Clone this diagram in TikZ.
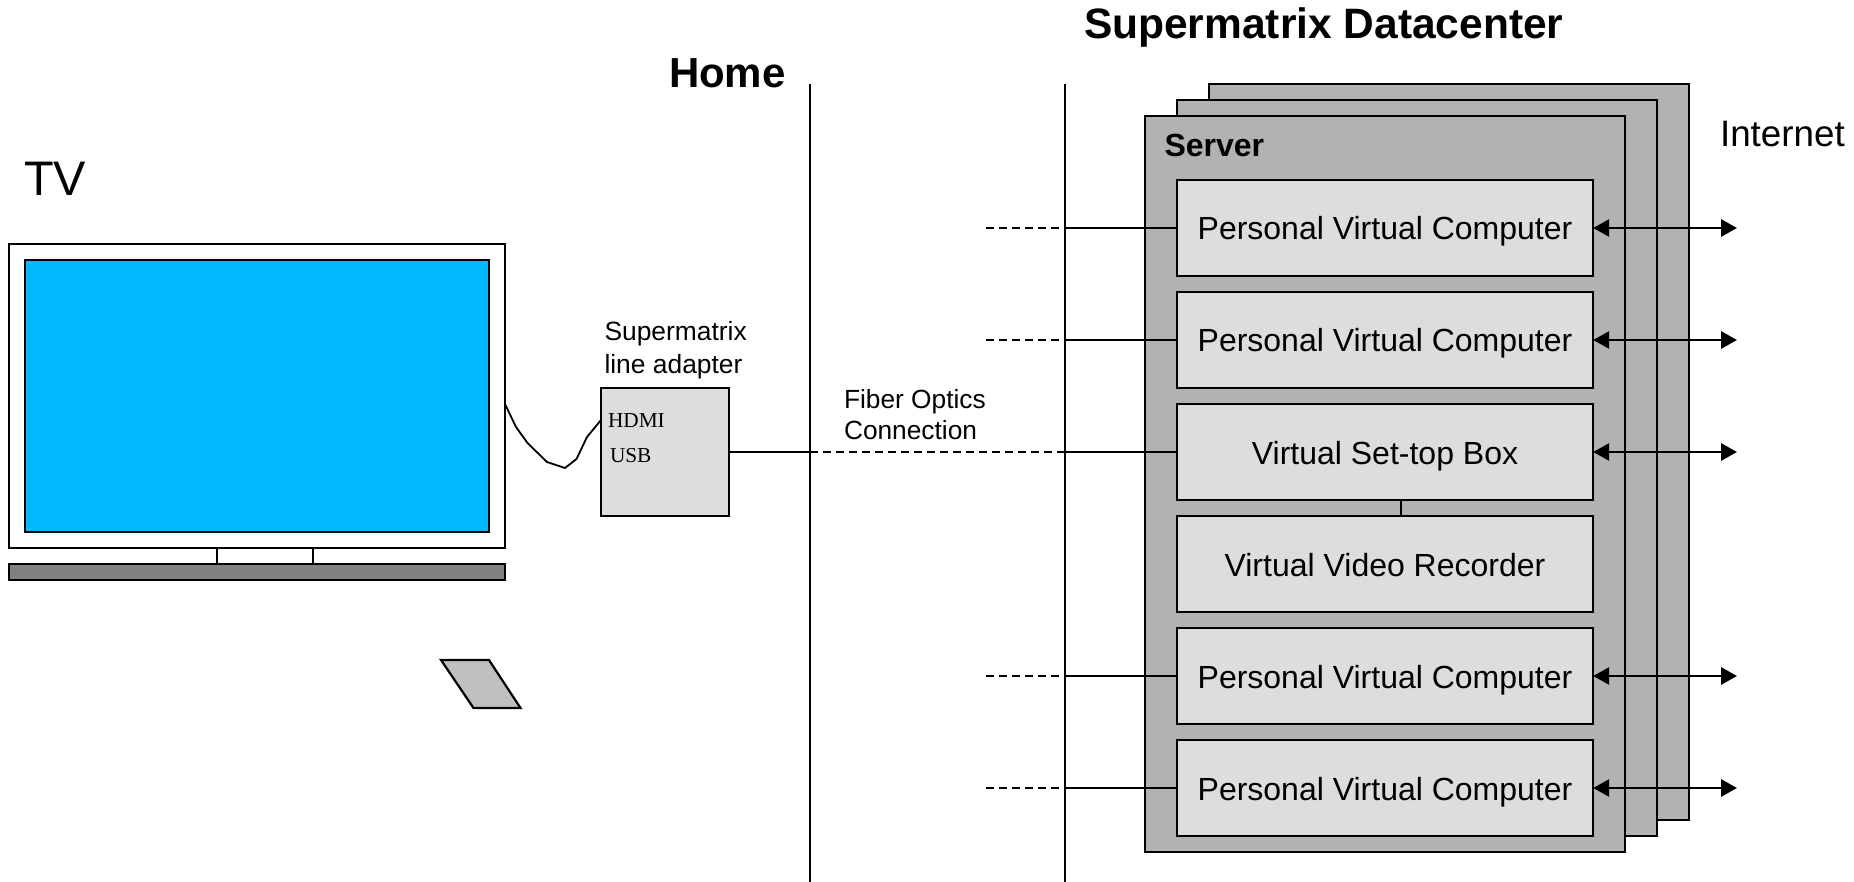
\documentclass[tikz,border=0pt]{standalone}
\usepackage{fontspec}
\setmainfont{Liberation Sans}
\newfontfamily\serifadapter{Liberation Serif}
\usetikzlibrary{arrows.meta,calc}
\definecolor{srvfill}{HTML}{B2B2B2}
\definecolor{boxfill}{HTML}{DDDDDD}
\definecolor{screenblue}{HTML}{00B8FF}
\definecolor{basegray}{HTML}{808080}
\definecolor{padgray}{HTML}{C0C0C0}
\newcommand{\fs}[1]{\fontsize{#1}{#1}\selectfont}
\tikzset{
  every node/.style={outer sep=0pt,inner sep=0pt},
  ln/.style={line width=2.2pt,draw=black},
  wall/.style={line width=2pt,draw=black},
  server/.style={ln,fill=srvfill,minimum width=480.3pt,minimum height=736pt},
  vbox/.style={ln,fill=boxfill,minimum width=416.3pt,minimum height=96pt,text height=24pt,text depth=0pt,font=\fs{32}},
  lab/.style={anchor=base west},
  dashln/.style={line width=1.8pt,dash pattern=on 8pt off 5pt},
  solidln/.style={line width=2pt},
  netarrow/.style={line width=2.8pt,{Triangle[length=16pt,width=17pt]}-{Triangle[length=16pt,width=17pt]}},
}
\begin{document}
\begin{tikzpicture}[x=1pt,y=-1pt]
\useasboundingbox (0,0) rectangle (1854,882);
% TV
\node[ln,fill=white,minimum width=496.3pt,minimum height=304pt] (tv) at (256.85,396) {};
\node[ln,fill=screenblue,minimum width=464pt,minimum height=272pt] (screen) at (257,396) {};
\node[ln,fill=basegray,minimum width=496.3pt,minimum height=16pt] (base) at (256.85,572) {};
\coordinate (sl) at (217,548);
\coordinate (sr) at (313,548);
\draw[ln] (sl) -- (sl |- base.north);
\draw[ln] (sr) -- (sr |- base.north);
\coordinate (k1) at (441,660);
\coordinate (k2) at (489,660);
\coordinate (k3) at (520.5,708);
\coordinate (k4) at (473.5,708);
\draw[ln,fill=padgray] (k1) -- (k2) -- (k3) -- (k4) -- cycle;
% adapter
\node[ln,fill=boxfill,minimum width=127.6pt,minimum height=128pt] (adapter) at (664.8,452) {};
\draw[line width=1.8pt] ($(tv.east)+(0,8)$) -- (516,427) -- (527.5,443) -- (547,462) -- (565,468) -- (576.5,459) -- (587,437) -- ($(adapter.west)+(0,-32)$);
\node[lab,font=\serifadapter\fs{21.3}] (hdmi) at (608,427.5) {HDMI};
\node[lab,font=\serifadapter\fs{21.3}] (usb) at (610,462) {USB};
\node[lab,font=\fs{26.4}] (adl1) at (604.5,341) {Supermatrix};
\node[lab,font=\fs{26.4}] (adl2) at (604.5,373.5) {line adapter};
% titles
\node[lab,font=\fs{48.5}] (tvlab) at (24,196) {TV};
\node[lab,font=\bfseries\fs{42}] (home) at (669,87.5) {Home};
\node[lab,font=\bfseries\fs{42.5}] (dc) at (1084,39) {Supermatrix Datacenter};
\node[lab,font=\fs{26.3}] (fib1) at (844,408) {Fiber Optics};
\node[lab,font=\fs{26.3}] (fib2) at (844,439) {Connection};
\node[lab,font=\fs{36.8}] (inet) at (1720,147) {Internet};
% walls
\coordinate (w1t) at (810,84);
\coordinate (w1b) at (810,882);
\coordinate (w2t) at (1065,84);
\coordinate (w2b) at (1065,882);
\draw[wall] (w1t) -- (w1b);
\draw[wall] (w2t) -- (w2b);
% servers
\node[server] (s3) at (1449,452) {};
\node[server] (s2) at (1417,468) {};
\node[server] (s1) at (1385,484) {};
\node[lab,font=\bfseries\fs{32}] (srv) at (1164.5,157) {Server};
% boxes
\node[vbox] (b1) at (1385,228) {Personal Virtual Computer};
\node[vbox] (b2) at (1385,340) {Personal Virtual Computer};
\node[vbox] (b3) at (1385,452) {Virtual Set-top Box};
\node[vbox] (b4) at (1385,564) {Virtual Video Recorder};
\node[vbox] (b5) at (1385,676) {Personal Virtual Computer};
\node[vbox] (b6) at (1385,788) {Personal Virtual Computer};
\coordinate (lnk) at (1401,500);
\draw[ln] (lnk) -- (lnk |- b4.north);
% connectors
\foreach \b in {b1,b2,b5,b6}{
  \coordinate (d\b) at (986,0 |- \b.west);
  \coordinate (c\b) at (1065,0 |- \b.west);
  \draw[dashln] (d\b) -- (c\b);
  \draw[solidln] (c\b) -- (\b.west);
}
\coordinate (c3) at (810,0 |- b3.west);
\coordinate (c4) at (1065,0 |- b3.west);
\draw[solidln] (adapter.east) -- (c3);
\draw[dashln] (c3) -- (c4);
\draw[solidln] (c4) -- (b3.west);
\foreach \b in {b1,b2,b3,b5,b6}{
  \coordinate (e\b) at (1737,0 |- \b.east);
  \draw[netarrow] (\b.east) -- (e\b);
}
\end{tikzpicture}
\end{document}
